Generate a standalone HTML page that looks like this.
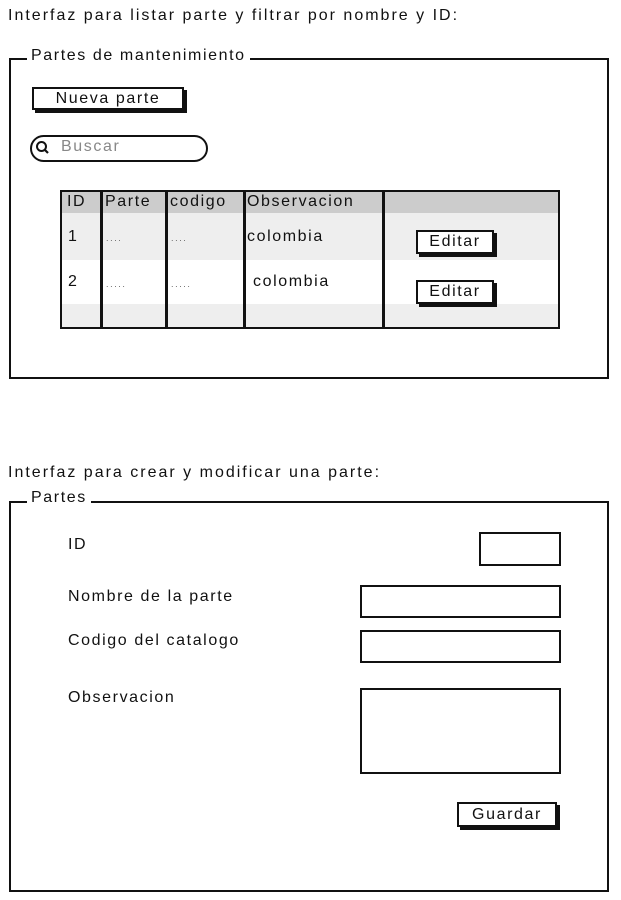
<!DOCTYPE html>
<html><head><meta charset="utf-8"><style>
body{margin:0;width:621px;height:900px;background:#fff;position:relative;font-family:"Liberation Sans",sans-serif;color:#111;overflow:hidden;letter-spacing:1.6px}
.a{position:absolute}
.t{font-size:16px;white-space:nowrap;letter-spacing:2px}
.frame{position:absolute;border:2.5px solid #111;box-sizing:border-box}
.lbl{position:absolute;background:#fff;padding:0 4px;font-size:16px;line-height:17px}
.btn{position:absolute;border:2px solid #111;background:#fff;box-sizing:border-box;box-shadow:3px 3px 0 #111;font-size:16px;text-align:center}
.box{position:absolute;border:2.5px solid #111;box-sizing:border-box;background:#fff}
.c{position:absolute;font-size:16px;white-space:nowrap}
</style></head><body>
<div class="a t" style="left:8px;top:7px">Interfaz para listar parte y filtrar por nombre y ID:</div>
<div class="frame" style="left:9px;top:58px;width:600px;height:321px"></div>
<div class="lbl" style="left:27px;top:47px">Partes de mantenimiento</div>
<div class="btn" style="left:32px;top:87px;width:152px;height:23px;line-height:19px">Nueva parte</div>
<div class="box" style="left:30px;top:135px;width:178px;height:27px;border-radius:14px"></div>
<svg class="a" style="left:35px;top:140px" width="16" height="16"><circle cx="6.5" cy="6.5" r="4.5" fill="none" stroke="#111" stroke-width="2"/><line x1="10" y1="10" x2="13" y2="13" stroke="#111" stroke-width="2.2"/></svg>
<div class="c" style="left:61px;top:138px;color:#888">Buscar</div>

<div class="a" style="left:60px;top:190px;width:500px;height:23px;background:#ccc"></div>
<div class="a" style="left:60px;top:213px;width:500px;height:47px;background:#eee"></div>
<div class="a" style="left:60px;top:304px;width:500px;height:25px;background:#eee"></div>
<div class="a" style="left:60px;top:190px;width:500px;height:139px;border:2.5px solid #111;box-sizing:border-box"></div>
<div class="a" style="left:100px;top:190px;width:2.5px;height:139px;background:#111"></div>
<div class="a" style="left:165px;top:190px;width:2.5px;height:139px;background:#111"></div>
<div class="a" style="left:243px;top:190px;width:2.5px;height:139px;background:#111"></div>
<div class="a" style="left:382px;top:190px;width:2.5px;height:139px;background:#111"></div>
<div class="c" style="left:67px;top:193px">ID</div>
<div class="c" style="left:105px;top:193px">Parte</div>
<div class="c" style="left:170px;top:193px">codigo</div>
<div class="c" style="left:247px;top:193px">Observacion</div>
<div class="c" style="left:68px;top:228px">1</div>
<div class="c" style="left:106px;top:233px;font-size:9px;color:#666">....</div>
<div class="c" style="left:171px;top:233px;font-size:9px;color:#666">....</div>
<div class="c" style="left:247px;top:228px">colombia</div>
<div class="c" style="left:68px;top:273px">2</div>
<div class="c" style="left:106px;top:279px;font-size:9px;color:#666">.....</div>
<div class="c" style="left:171px;top:279px;font-size:9px;color:#666">.....</div>
<div class="c" style="left:253px;top:273px">colombia</div>
<div class="btn" style="left:416px;top:230px;width:78px;height:24px;line-height:20px">Editar</div>
<div class="btn" style="left:416px;top:280px;width:78px;height:24px;line-height:20px">Editar</div>

<div class="a t" style="left:8px;top:464px">Interfaz para crear y modificar una parte:</div>
<div class="frame" style="left:9px;top:501px;width:600px;height:391px"></div>
<div class="lbl" style="left:27px;top:489px">Partes</div>
<div class="c" style="left:68px;top:536px">ID</div>
<div class="c" style="left:68px;top:588px">Nombre de la parte</div>
<div class="c" style="left:68px;top:632px">Codigo del catalogo</div>
<div class="c" style="left:68px;top:689px">Observacion</div>
<div class="box" style="left:479px;top:532px;width:82px;height:34px"></div>
<div class="box" style="left:360px;top:585px;width:201px;height:33px"></div>
<div class="box" style="left:360px;top:630px;width:201px;height:33px"></div>
<div class="box" style="left:360px;top:688px;width:201px;height:86px"></div>
<div class="btn" style="left:457px;top:802px;width:100px;height:25px;line-height:21px">Guardar</div>
</body></html>
